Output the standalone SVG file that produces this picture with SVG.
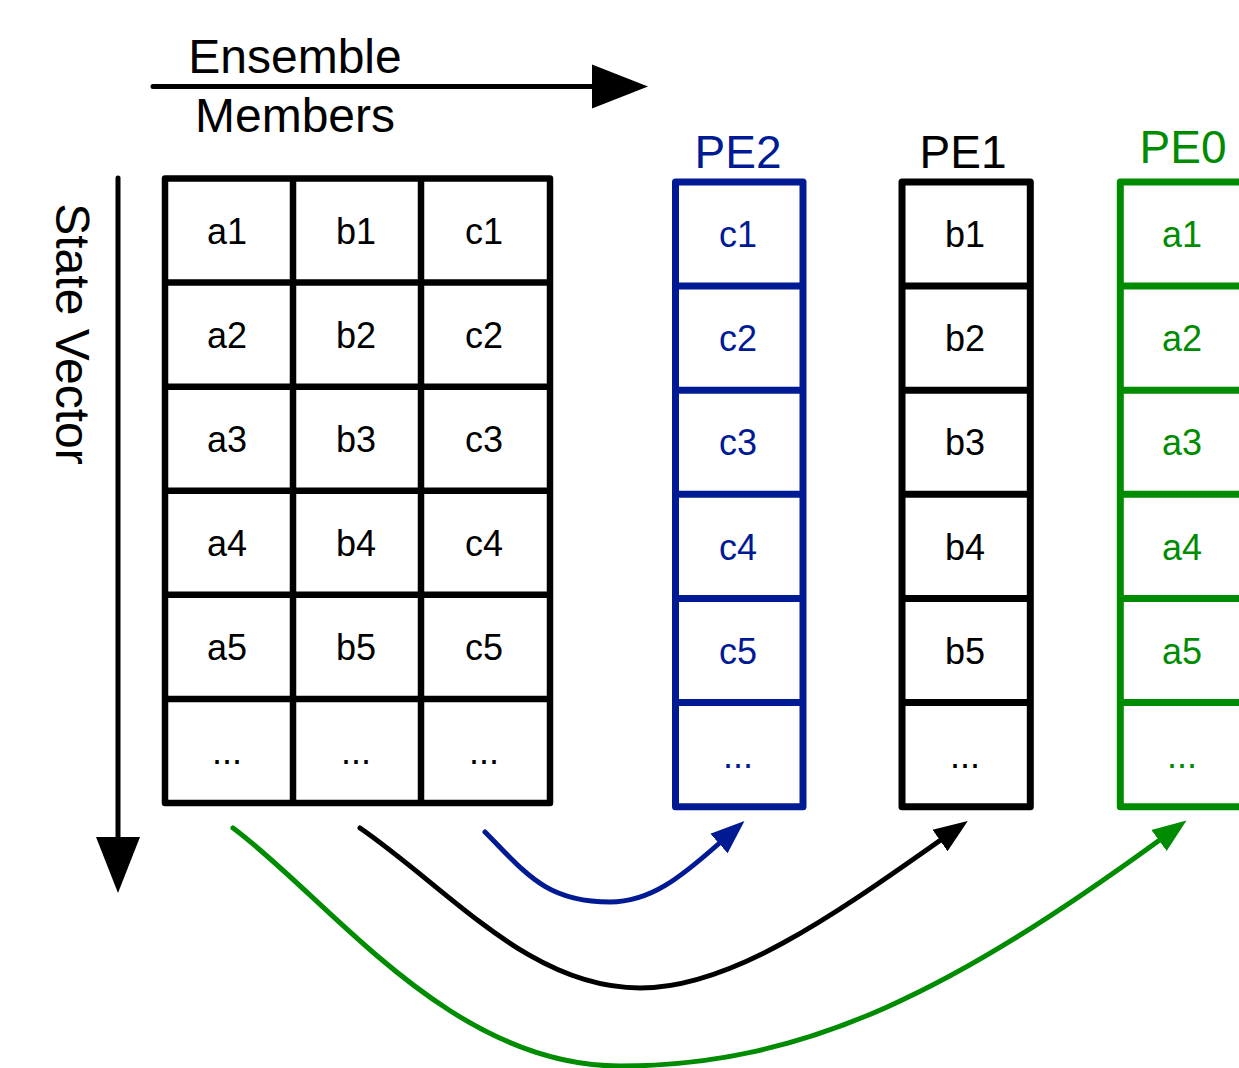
<svg xmlns="http://www.w3.org/2000/svg" width="1239" height="1068" viewBox="0 0 1239 1068">
<defs>
<style>
text{font-family:"Liberation Sans",Arial,Helvetica,sans-serif;}
.lbl{font-size:48px;fill:#000;}
.pe{font-size:46px;text-anchor:middle;}
.cell{font-size:36px;text-anchor:middle;}
.grid{fill:#fff;stroke:#000;stroke-width:6.5;stroke-linejoin:round;stroke-linecap:round;}
.gline{stroke:#000;stroke-width:6.5;fill:none;}
.blue{fill:#001a94;}
.green{fill:#008c00;}
.black{fill:#000;}
.colB{fill:#fff;stroke:#001a94;stroke-width:7;stroke-linejoin:round;}
.colK{fill:#fff;stroke:#000;stroke-width:7;stroke-linejoin:round;}
.colG{fill:#fff;stroke:#008c00;stroke-width:7;stroke-linejoin:round;}
.axis{stroke:#000;stroke-width:5;fill:none;stroke-linecap:round;}
.cv{stroke-width:5;fill:none;stroke-linecap:round;}
</style>
<marker id="axhead" markerUnits="userSpaceOnUse" markerWidth="60" markerHeight="50" refX="0" refY="22" orient="auto" viewBox="0 0 60 44">
<path d="M0,0 L56,22 L0,44 Z" fill="#000"/>
</marker>
<marker id="hk" markerUnits="userSpaceOnUse" markerWidth="36" markerHeight="28" refX="0" refY="13" orient="auto" viewBox="0 0 36 26">
<path d="M0,0 L34,13 L0,26 Z" fill="#000"/>
</marker>
<marker id="hb" markerUnits="userSpaceOnUse" markerWidth="36" markerHeight="28" refX="0" refY="13" orient="auto" viewBox="0 0 36 26">
<path d="M0,0 L34,13 L0,26 Z" fill="#001a94"/>
</marker>
<marker id="hg" markerUnits="userSpaceOnUse" markerWidth="36" markerHeight="28" refX="0" refY="13" orient="auto" viewBox="0 0 36 26">
<path d="M0,0 L34,13 L0,26 Z" fill="#008c00"/>
</marker>
</defs>
<rect width="1239" height="1068" fill="#fff"/>

<g id="ensemble-label">
<text class="lbl" x="295" y="73" text-anchor="middle">Ensemble</text>
<text class="lbl" x="295" y="132" text-anchor="middle">Members</text>
</g>
<g id="state-vector-label">
<text class="lbl" transform="translate(56,334) rotate(90)" text-anchor="middle">State Vector</text>
</g>

<g id="connectors">
<line class="axis" x1="153" y1="86.5" x2="592" y2="86.5" marker-end="url(#axhead)"/>
<line class="axis" x1="118" y1="178" x2="118" y2="837" marker-end="url(#axhead)"/>
<path class="cv" stroke="#001a94" d="M485,832 C525,872 545,902 610,902 C650,902 680,878 719,843.5" marker-end="url(#hb)"/>
<path class="cv" stroke="#000" d="M360,828 C450,890 530,988 640,988 C730,988 830,918 940,840.5" marker-end="url(#hk)"/>
<path class="cv" stroke="#008c00" d="M233,828 C330,900 450,1066 620,1066 C810,1066 960,985 1159,840.5" marker-end="url(#hg)"/>
</g>

<g id="matrix">
<rect class="grid" x="165" y="178.5" width="385" height="624.5"/>
<path class="gline" d="M293,178.5 V803 M421,178.5 V803 M165,282.6 H550 M165,386.7 H550 M165,490.8 H550 M165,594.8 H550 M165,698.9 H550"/>
<g class="cell black">
<text x="227" y="243.5">a1</text><text x="356" y="243.5">b1</text><text x="484" y="243.5">c1</text>
<text x="227" y="347.6">a2</text><text x="356" y="347.6">b2</text><text x="484" y="347.6">c2</text>
<text x="227" y="451.7">a3</text><text x="356" y="451.7">b3</text><text x="484" y="451.7">c3</text>
<text x="227" y="555.8">a4</text><text x="356" y="555.8">b4</text><text x="484" y="555.8">c4</text>
<text x="227" y="659.9">a5</text><text x="356" y="659.9">b5</text><text x="484" y="659.9">c5</text>
<text x="227" y="764">...</text><text x="356" y="764">...</text><text x="484" y="764">...</text>
</g>
</g>

<g id="pe2">
<text class="pe blue" x="738" y="168">PE2</text>
<rect class="colB" x="675.5" y="182" width="127.5" height="624.7"/>
<path d="M675.5,286.1 H803 M675.5,390.2 H803 M675.5,494.3 H803 M675.5,598.5 H803 M675.5,702.6 H803" stroke="#001a94" stroke-width="7"/>
<g class="cell blue">
<text x="738" y="247">c1</text><text x="738" y="351">c2</text><text x="738" y="455">c3</text>
<text x="738" y="559.5">c4</text><text x="738" y="663.5">c5</text><text x="738" y="767.6">...</text>
</g>
</g>

<g id="pe1">
<text class="pe black" x="963" y="168">PE1</text>
<rect class="colK" x="902" y="182" width="128.3" height="624.7"/>
<path d="M902,286.1 H1030.3 M902,390.2 H1030.3 M902,494.3 H1030.3 M902,598.5 H1030.3 M902,702.6 H1030.3" stroke="#000" stroke-width="7"/>
<g class="cell black">
<text x="965" y="247">b1</text><text x="965" y="351">b2</text><text x="965" y="455">b3</text>
<text x="965" y="559.5">b4</text><text x="965" y="663.5">b5</text><text x="965" y="767.6">...</text>
</g>
</g>

<g id="pe0">
<text class="pe green" x="1183" y="163">PE0</text>
<rect class="colG" x="1120.3" y="182" width="128" height="624.7"/>
<path d="M1120.3,286.1 H1248.3 M1120.3,390.2 H1248.3 M1120.3,494.3 H1248.3 M1120.3,598.5 H1248.3 M1120.3,702.6 H1248.3" stroke="#008c00" stroke-width="7"/>
<g class="cell green">
<text x="1182" y="247">a1</text><text x="1182" y="351">a2</text><text x="1182" y="455">a3</text>
<text x="1182" y="559.5">a4</text><text x="1182" y="663.5">a5</text><text x="1182" y="767.6">...</text>
</g>
</g>
</svg>
